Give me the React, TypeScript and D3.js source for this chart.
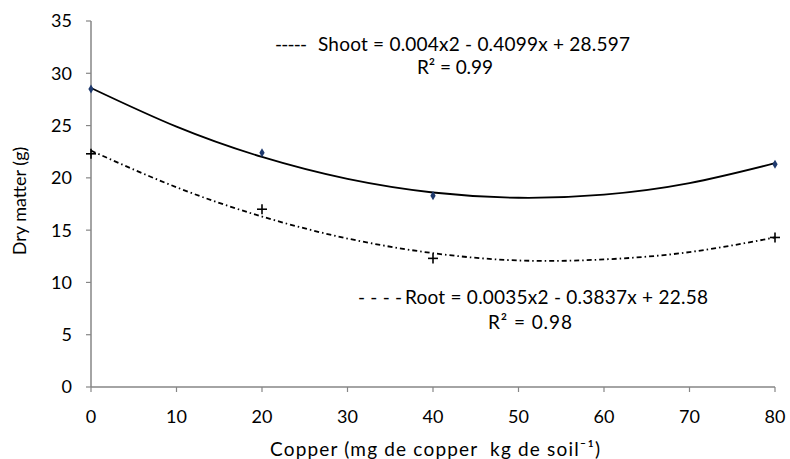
import React from 'react'
import * as d3 from 'd3'

// measured points
const doses = [0, 20, 40, 80]
const shoot = [28.5, 22.4, 18.3, 21.3]
const root = [22.3, 17.0, 12.3, 14.3]

// trend lines
const trendX = [0, 10, 20, 30, 40, 50, 60, 70, 80]
const shootTrend = [28.6, 24.9, 22.0, 19.9, 18.6, 18.1, 18.4, 19.5, 21.4]
const rootTrend = [22.6, 19.1, 16.3, 14.2, 12.8, 12.1, 12.2, 12.9, 14.3]

const xTicks = [0, 10, 20, 30, 40, 50, 60, 70, 80]
const yTicks = [0, 5, 10, 15, 20, 25, 30, 35]

const shootDash = '-----'
const shootLabel = 'Shoot = 0.004x2 - 0.4099x + 28.597'
const shootR2 = 'R² = 0.99'
const rootDash = '- - - -'
const rootLabel = 'Root = 0.0035x2 - 0.3837x + 22.58'
const rootR2 = 'R² = 0.98'

const W = 790
const H = 459
const font = 'Lato, "Open Sans", sans-serif'
const fs = 18
const eqFs = 19
const axisColor = '#868686'

export default function App() {
  const x = d3.scaleLinear().domain([0, 80]).range([91, 775])
  const y = d3.scaleLinear().domain([0, 35]).range([387, 21])

  const line = d3.line<number>()
    .x((d, i) => x(trendX[i]))
    .y(d => y(d))
    .curve(d3.curveNatural)

  const diamond = d3.symbol().type(d3.symbolDiamond).size(24)()

  return (
    <svg width={W} height={H} style={{ position: 'absolute', left: 0, top: 0, background: '#fff' }}>
      {/* axes */}
      <line x1={x(0)} x2={x(0)} y1={y(35)} y2={y(0)} stroke={axisColor} strokeWidth={1.5} />
      <line x1={x(0)} x2={x(80)} y1={y(0)} y2={y(0)} stroke={axisColor} strokeWidth={1.5} />
      {yTicks.map(t => (
        <g key={'y' + t}>
          <line x1={x(0) - 5} x2={x(0)} y1={y(t)} y2={y(t)} stroke={axisColor} strokeWidth={1.2} />
          <text x={72} y={y(t)} dy="0.36em" textAnchor="end" fontFamily={font} fontSize={fs} fill="#000">{t}</text>
        </g>
      ))}
      {xTicks.map(t => (
        <g key={'x' + t}>
          <line x1={x(t)} x2={x(t)} y1={y(0)} y2={y(0) + 5} stroke={axisColor} strokeWidth={1.2} />
          <text x={x(t)} y={423} textAnchor="middle" fontFamily={font} fontSize={fs} fill="#000">{t}</text>
        </g>
      ))}

      <text x={270} y={456} textLength={330} lengthAdjust="spacing" fontFamily={font} fontSize={eqFs} fill="#000" style={{ whiteSpace: 'pre' }}>Copper (mg de copper  kg de soil⁻¹)</text>
      <text transform="translate(26,201) rotate(-90)" textAnchor="middle" fontFamily={font} fontSize={fs} fill="#000">Dry matter (g)</text>

      {/* trend lines */}
      <path d={line(shootTrend) || ''} fill="none" stroke="#000" strokeWidth={1.8} />
      <path d={line(rootTrend) || ''} fill="none" stroke="#000" strokeWidth={1.8} strokeDasharray="5,3,1.5,3" />

      {/* points */}
      {doses.map((d, i) => (
        <path key={'s' + d} d={diamond || ''} transform={`translate(${x(d)},${y(shoot[i])})`} fill="#1f3a6e" />
      ))}
      {doses.map((d, i) => (
        <g key={'r' + d} transform={`translate(${x(d)},${y(root[i])})`} stroke="#000" strokeWidth={1.6}>
          <line x1={-5} x2={5} y1={0} y2={0} />
          <line x1={0} x2={0} y1={-5} y2={5} />
        </g>
      ))}

      {/* equations */}
      <text x={275} y={51} textLength={32} lengthAdjust="spacing" fontFamily={font} fontSize={eqFs} fill="#000">{shootDash}</text>
      <text x={318} y={51} textLength={312} lengthAdjust="spacing" fontFamily={font} fontSize={eqFs} fill="#000">{shootLabel}</text>
      <text x={417} y={74} textLength={76} lengthAdjust="spacing" fontFamily={font} fontSize={eqFs} fill="#000">{shootR2}</text>
      <text x={358} y={304} textLength={44} lengthAdjust="spacing" fontFamily={font} fontSize={eqFs} fill="#000" style={{ whiteSpace: 'pre' }}>{rootDash}</text>
      <text x={405} y={304} textLength={303} lengthAdjust="spacing" fontFamily={font} fontSize={eqFs} fill="#000">{rootLabel}</text>
      <text x={488} y={329} textLength={84} lengthAdjust="spacing" fontFamily={font} fontSize={eqFs} fill="#000">{rootR2}</text>
    </svg>
  )
}
